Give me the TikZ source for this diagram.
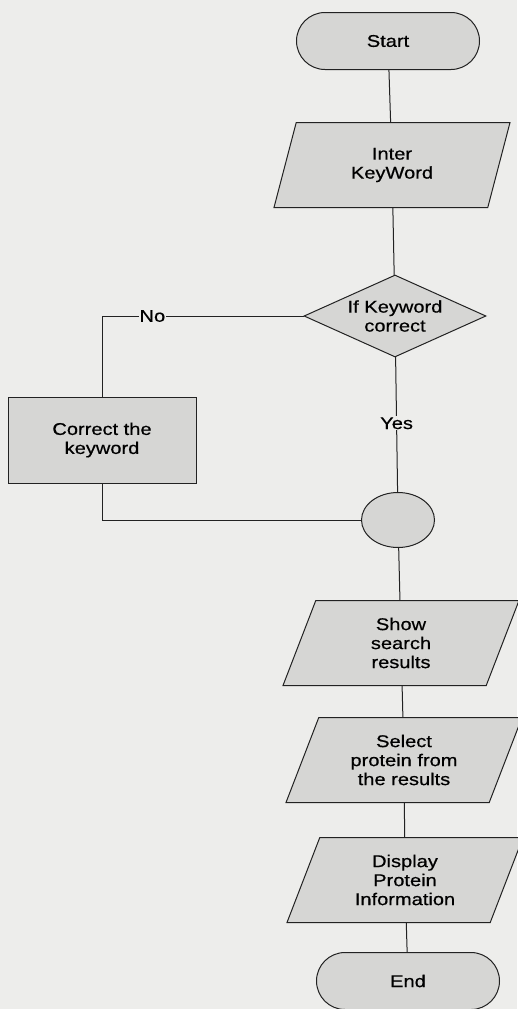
\documentclass[tikz,border=0pt]{standalone}
\usepackage{fontspec}
\setmainfont{Liberation Sans}
\newfontfamily\diagfont[FakeStretch=1.18,FakeBold=0.6]{Liberation Sans}
\usetikzlibrary{shapes.geometric,shapes.misc}
\definecolor{pagebg}{HTML}{EDEDEB}
\definecolor{shapefill}{HTML}{D6D6D4}
\definecolor{ink}{HTML}{222222}
\tikzset{
  txt/.style={align=center, font=\diagfont\fontsize{17}{19}\selectfont, text=black},
  base/.style={txt, draw=ink, line width=1pt, fill=shapefill, inner sep=0pt},
  terminal/.style={base, shape=rounded rectangle, minimum width=183pt, minimum height=57pt},
  io/.style={base, shape=trapezium, trapezium left angle=57, trapezium right angle=123,
    trapezium stretches body, minimum width=236pt, minimum height=85pt},
  decision/.style={base, shape=diamond, minimum width=182pt, minimum height=82pt},
  process/.style={base, shape=rectangle, minimum width=188pt, minimum height=86pt},
  joint/.style={base, shape=ellipse, minimum width=73pt, minimum height=55pt},
  conn/.style={draw=ink, line width=1pt},
  lbl/.style={txt, fill=pagebg, inner sep=1pt}
}
\begin{document}
\begin{tikzpicture}[x=1pt,y=1pt]
\fill[pagebg] (0,0) rectangle (517,-1009);
\useasboundingbox (0,0) rectangle (517,-1009);
\node[terminal] (start) at (388,-41) {Start};
\node[io] (inter) at (392,-165) {Inter\\KeyWord};
\node[decision, label={[txt]center:If Keyword\\correct}] (dec) at (395,-316) {};
\node[process] (corr) at (102,-440) {Correct the\\keyword};
\node[joint] (join) at (398,-520) {};
\node[io] (show) at (401,-643) {Show\\search\\results};
\node[io] (sel) at (404,-760) {Select\\protein from\\the results};
\node[io] (disp) at (405,-880) {Display\\Protein\\Information};
\node[terminal] (end) at (408,-981) {End};

\draw[conn] (start) -- (inter);
\draw[conn] (inter) -- (dec);
\draw[conn] (dec.west) -- (corr.north |- dec.west) node[lbl, pos=0.75] {No} -- (corr.north);
\draw[conn] (dec) -- (join) node[lbl, pos=0.49] {Yes};
\draw[conn] (corr.south) |- (join.west);
\draw[conn] (join) -- (show);
\draw[conn] (show) -- (sel);
\draw[conn] (sel) -- (disp);
\draw[conn] (disp) -- (end);
\end{tikzpicture}
\end{document}
